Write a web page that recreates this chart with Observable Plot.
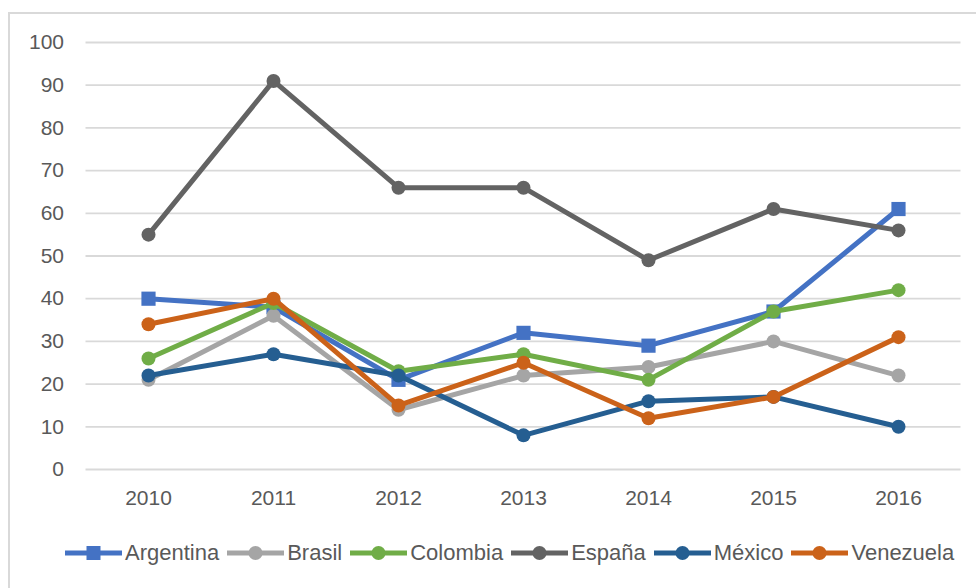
<!DOCTYPE html>
<html>
<head>
<meta charset="utf-8">
<script src="https://cdn.jsdelivr.net/npm/d3@7"></script>
<script src="https://cdn.jsdelivr.net/npm/@observablehq/plot@0.6"></script>
<style>
  html, body { margin: 0; padding: 0; background: #fff; }
  body { width: 976px; height: 588px; position: relative; overflow: hidden; font-family: "Liberation Sans", Arial, sans-serif; }
  #frame { position: absolute; left: 8px; top: 12px; width: 1200px; height: 800px; border-left: 2px solid #d9d9d9; border-top: 2px solid #d9d9d9; }
  #chart { position: absolute; left: 0; top: 0; }
  #legend { position: absolute; left: 65px; top: 540px; display: flex; align-items: center; color: #595959; font-size: 22px; white-space: nowrap; }
  .item { display: flex; align-items: center; margin-right: 8px; }
  .item svg { display: block; margin-right: 3px; }
</style>
</head>
<body>
<div id="frame"></div>
<div id="chart"></div>
<div id="legend"></div>
<script>
const years = ["2010", "2011", "2012", "2013", "2014", "2015", "2016"];
const seriesNames = ["Argentina", "Brasil", "Colombia", "España", "México", "Venezuela"];
const argentina = [40, 38, 21, 32, 29, 37, 61];
const brasil    = [21, 36, 14, 22, 24, 30, 22];
const colombia  = [26, 39, 23, 27, 21, 37, 42];
const espana    = [55, 91, 66, 66, 49, 61, 56];
const mexico    = [22, 27, 22, 8, 16, 17, 10];
const venezuela = [34, 40, 15, 25, 12, 17, 31];
const seriesValues = [argentina, brasil, colombia, espana, mexico, venezuela];
const yTicks = [0, 10, 20, 30, 40, 50, 60, 70, 80, 90, 100];

const colors = ["#4472C4", "#A5A5A5", "#70AD47", "#636363", "#255E91", "#CB6219"];
const symbols = ["square", "circle", "circle", "circle", "circle", "circle"];

const tables = seriesNames.map((name, i) =>
  years.map((year, j) => ({series: name, year, value: seriesValues[i][j]}))
);

const seriesMarks = tables.flatMap((data, i) => [
  Plot.line(data, {x: "year", y: "value", stroke: colors[i], strokeWidth: 5, strokeLinejoin: "round", strokeLinecap: "round"}),
  Plot.dot(data, {x: "year", y: "value", fill: colors[i], stroke: "none", symbol: symbols[i], r: i === 0 ? 8 : 7})
]);

const chart = Plot.plot({
  width: 976,
  height: 520,
  marginLeft: 85.5,
  marginRight: 15.5,
  marginTop: 42,
  marginBottom: 51,
  style: {fontFamily: "'Liberation Sans', Arial, sans-serif", fontSize: "21px", color: "#595959", background: "transparent", overflow: "visible"},
  x: {type: "point", domain: years, padding: 0.5},
  y: {domain: [0, 100]},
  marks: [
    Plot.ruleY(yTicks, {stroke: "#d9d9d9", strokeWidth: 1.8}),
    Plot.axisY({ticks: yTicks, tickSize: 0, tickPadding: 22, fontSize: 21, label: null}),
    Plot.axisX({tickSize: 0, tickPadding: 21, fontSize: 21, label: null}),
    ...seriesMarks
  ]
});
document.getElementById("chart").appendChild(chart);

const legend = document.getElementById("legend");
seriesNames.forEach((name, i) => {
  const item = document.createElement("div");
  item.className = "item";
  const ns = "http://www.w3.org/2000/svg";
  const svg = document.createElementNS(ns, "svg");
  svg.setAttribute("width", 57);
  svg.setAttribute("height", 20);
  const line = document.createElementNS(ns, "line");
  line.setAttribute("x1", 0); line.setAttribute("x2", 57);
  line.setAttribute("y1", 10); line.setAttribute("y2", 10);
  line.setAttribute("stroke", colors[i]); line.setAttribute("stroke-width", 5);
  svg.appendChild(line);
  let m;
  if (symbols[i] === "square") {
    m = document.createElementNS(ns, "rect");
    m.setAttribute("x", 28.5 - 7); m.setAttribute("y", 3);
    m.setAttribute("width", 14); m.setAttribute("height", 14);
  } else {
    m = document.createElementNS(ns, "circle");
    m.setAttribute("cx", 28.5); m.setAttribute("cy", 10); m.setAttribute("r", 7);
  }
  m.setAttribute("fill", colors[i]);
  svg.appendChild(m);
  const label = document.createElement("span");
  label.textContent = name;
  item.appendChild(svg);
  item.appendChild(label);
  legend.appendChild(item);
});
</script>
</body>
</html>
